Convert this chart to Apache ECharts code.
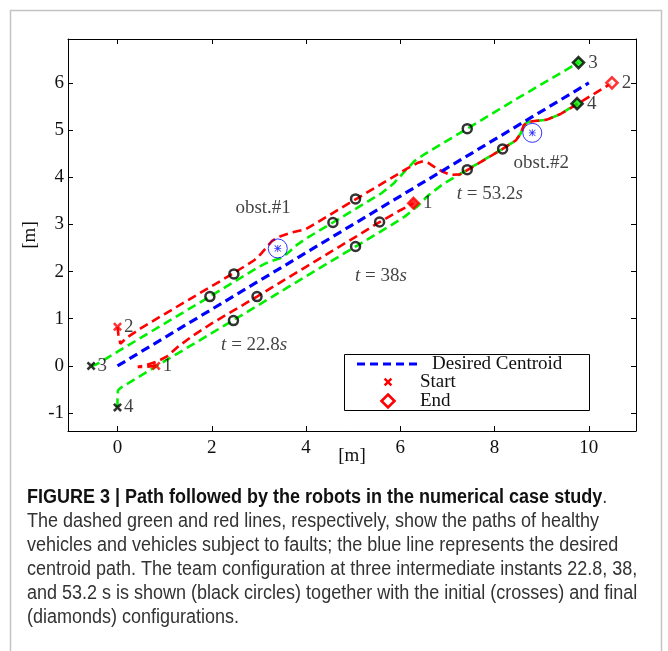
<!DOCTYPE html>
<html>
<head>
<meta charset="utf-8">
<script src="https://cdn.jsdelivr.net/npm/echarts@6/dist/echarts.min.js"></script>
<style>
  html, body { margin: 0; padding: 0; background: #fff; }
  #chart { width: 668px; height: 651px; }
</style>
</head>
<body>
<div id="chart"></div>
<script>
// Axis ticks
const xTicks = [0, 2, 4, 6, 8, 10];
const yTicks = [-1, 0, 1, 2, 3, 4, 5, 6];

// Desired centroid path
const centroidPath = [[0, 0], [10, 6]];

// Robot paths (robots 1 and 2 are the faulty ones)
const robot1Path = [[0.82, 0.00], [0.62, -0.02], [0.43, -0.02], [0.55, 0.00], [0.84, 0.09], [1.05, 0.20],
  [1.30, 0.42], [1.60, 0.64], [2.00, 0.90], [2.96, 1.47], [4.00, 2.10], [5.06, 2.74], [5.56, 3.05],
  [6.00, 3.30], [6.28, 3.45]];
const robot2Path = [[0.00, 0.83], [0.02, 0.66], [0.06, 0.47], [0.20, 0.60], [0.50, 0.80], [1.00, 1.10],
  [2.47, 1.97], [2.90, 2.24], [3.03, 2.36], [3.15, 2.50], [3.28, 2.65], [3.46, 2.75], [3.67, 2.82],
  [4.00, 2.90], [5.05, 3.53], [6.14, 4.18], [6.36, 4.30], [6.49, 4.34], [6.60, 4.30], [6.72, 4.22],
  [6.89, 4.12], [7.06, 4.05], [7.27, 4.06], [7.42, 4.15], [8.17, 4.60], [8.45, 4.78], [8.55, 4.92],
  [8.62, 5.10], [8.70, 5.17], [8.85, 5.19], [9.11, 5.22], [9.40, 5.34], [9.75, 5.55], [10.10, 5.76],
  [10.49, 6.00]];
const robot3Path = [[-0.56, 0.00], [-0.45, 0.03], [0.50, 0.60], [1.96, 1.47], [3.00, 2.10], [3.20, 2.20],
  [3.45, 2.28], [3.60, 2.38], [3.80, 2.56], [4.00, 2.70], [4.57, 3.04], [5.60, 3.66], [5.85, 3.86],
  [6.10, 4.13], [6.30, 4.34], [6.50, 4.48], [7.42, 5.03], [8.50, 5.68], [9.78, 6.43]];
const robot4Path = [[0.00, -0.88], [0.00, -0.70], [0.01, -0.52], [0.06, -0.47], [1.00, 0.10], [2.46, 0.97],
  [4.00, 1.90], [5.05, 2.53], [5.80, 2.98], [6.10, 3.17], [6.36, 3.38], [6.60, 3.62], [6.90, 3.85],
  [7.42, 4.16], [8.17, 4.60], [8.45, 4.78], [8.55, 4.92], [8.62, 5.10], [8.70, 5.17], [8.85, 5.19],
  [9.11, 5.22], [9.40, 5.34], [9.75, 5.56]];

// Initial and final positions, robots 1..4
const robotIds = ['1', '2', '3', '4'];
const startPoints = [[0.82, 0.00], [0.00, 0.83], [-0.56, 0.00], [0.00, -0.88]];
const endPoints = [[6.28, 3.45], [10.49, 6.00], [9.78, 6.43], [9.75, 5.56]];
const faultyRobots = ['1', '2'];

// Team configuration at intermediate instants
const snapshot228 = [[1.96, 1.47], [2.47, 1.95], [2.96, 1.47], [2.46, 0.96]];
const snapshot38 = [[4.57, 3.04], [5.05, 3.54], [5.56, 3.05], [5.05, 2.53]];
const snapshot532 = [[7.42, 5.03], [8.17, 4.60], [7.42, 4.16]];

// Obstacles
const obstacles = [[3.40, 2.49], [8.80, 4.94]];

// Text annotations: [text, x, y]
const annotations = [
  ['obst.#1', 3.09, 3.35],
  ['obst.#2', 8.99, 4.30],
  ['{i|t} = 22.8{i|s}', 2.90, 0.44],
  ['{i|t} = 38{i|s}', 5.59, 1.91],
  ['{i|t} = 53.2{i|s}', 7.90, 3.64]
];

// Caption
const captionTitle = 'FIGURE 3 | Path followed by the robots in the numerical case study';
const captionLines = [
  'The dashed green and red lines, respectively, show the paths of healthy',
  'vehicles and vehicles subject to faults; the blue line represents the desired',
  'centroid path. The team configuration at three intermediate instants 22.8, 38,',
  'and 53.2 s is shown (black circles) together with the initial (crosses) and final',
  '(diamonds) configurations.'
];

const RED = '#ff0000', GREEN = '#00f000', BLUE = '#0000ff';
const SERIF = '"Liberation Serif", "Times New Roman", serif';
const CAPFONT = '"Liberation Sans", Arial, sans-serif';
const CAP_SIZE = 20, CAP_SQUEEZE = 0.9;   // condensed caption face
const CROSS_PTS = [[0, 2], [2, 0], [5, 3], [8, 0], [10, 2], [7, 5], [10, 8], [8, 10], [5, 7], [2, 10], [0, 8], [3, 5]];
const CROSS = 'path://M' + CROSS_PTS.map(p => p.join(',')).join('L') + 'Z';
const STAR = 'path://M4.4,0H5.6V10H4.4Z M0,4.4H10V5.6H0Z M1,0.2L9.8,9L9,9.8L0.2,1Z M9,0.2L9.8,1L1,9.8L0.2,9Z';

const chart = echarts.init(document.getElementById('chart'), null, { renderer: 'canvas' });

function pathSeries(data, color, z, width) {
  return {
    type: 'line', data: data, symbol: 'none', showSymbol: false, z: z,
    lineStyle: { color: color, width: width || 2.6, type: [9, 5] },
    silent: true
  };
}

const axisLineStyle = { color: '#000', width: 1 };
function xAxisDef(pos, withLabels) {
  return {
    type: 'value', min: -1.05, max: 11.0, position: pos,
    axisLine: { show: true, onZero: false, lineStyle: axisLineStyle },
    axisTick: { show: true, inside: true, length: 5, customValues: xTicks, lineStyle: axisLineStyle },
    axisLabel: withLabels ? { customValues: xTicks, fontFamily: SERIF, fontSize: 19, color: '#111', margin: 8 } : { show: false },
    splitLine: { show: false },
    name: withLabels ? '[m]' : '', nameLocation: 'middle', nameGap: 25, nameMoveOverlap: false,
    nameTextStyle: { fontFamily: SERIF, fontSize: 19, color: '#111', verticalAlign: 'middle' }
  };
}
function yAxisDef(pos, withLabels) {
  return {
    type: 'value', min: -1.38, max: 6.93, position: pos,
    axisLine: { show: true, onZero: false, lineStyle: axisLineStyle },
    axisTick: { show: true, inside: true, length: 5, customValues: yTicks, lineStyle: axisLineStyle },
    axisLabel: withLabels ? { customValues: yTicks, fontFamily: SERIF, fontSize: 19, color: '#111', margin: 4 } : { show: false },
    splitLine: { show: false },
    name: withLabels ? '[m]' : '', nameLocation: 'middle', nameGap: 38, nameMoveOverlap: false,
    nameTextStyle: { fontFamily: SERIF, fontSize: 19, color: '#111', verticalAlign: 'middle' }
  };
}

const startData = startPoints.map((p, i) => {
  const faulty = faultyRobots.includes(robotIds[i]);
  return { value: p, name: robotIds[i], itemStyle: { color: faulty ? RED : '#000' } };
});
const endData = endPoints.map((p, i) => {
  const id = robotIds[i];
  let style;
  if (id === '1') style = { color: RED, borderColor: RED, borderWidth: 2.2 };
  else if (id === '2') style = { color: '#fff', borderColor: RED, borderWidth: 2.6 };
  else style = { color: GREEN, borderColor: '#000', borderWidth: 2.6 };
  return { value: p, name: id, itemStyle: style };
});

const numberLabel = {
  show: true, position: 'right', distance: 2, formatter: '{b}',
  fontFamily: SERIF, fontSize: 19, color: '#111'
};

const snapshotSeries = [snapshot228, snapshot38, snapshot532].map(s => ({
  type: 'scatter', data: s, symbol: 'circle', symbolSize: 9, z: 10, silent: true,
  itemStyle: { color: 'rgba(0,0,0,0)', borderColor: '#000', borderWidth: 2.5 }
}));

// Caption text
const captionTop = 497, captionStep = 24, captionLeft = 27;
const captionGraphics = [{
  type: 'text', x: captionLeft, y: captionTop, scaleX: CAP_SQUEEZE,
  style: {
    text: '{b|' + captionTitle + '}{r|.}',
    verticalAlign: 'middle',
    rich: {
      b: { fontFamily: CAPFONT, fontSize: CAP_SIZE, fontWeight: 'bold', fill: '#111' },
      r: { fontFamily: CAPFONT, fontSize: CAP_SIZE, fill: '#333' }
    }
  }
}].concat(captionLines.map((line, i) => ({
  type: 'text', x: captionLeft, y: captionTop + captionStep * (i + 1), scaleX: CAP_SQUEEZE,
  style: { text: line, fontFamily: CAPFONT, fontSize: CAP_SIZE, fill: '#333', verticalAlign: 'middle' }
})));

// Legend box
const legendCross = CROSS_PTS.map(p => [383.75 + p[0] * 0.85, 377.75 + p[1] * 0.85]);
const legendGraphics = [
  { type: 'rect', shape: { x: 344.5, y: 354.5, width: 245, height: 56 },
    style: { fill: '#fff', stroke: '#000', lineWidth: 1 }, z: 100 },
  { type: 'line', shape: { x1: 357, y1: 364, x2: 418, y2: 364 },
    style: { stroke: BLUE, lineWidth: 3, lineDash: [8, 5] }, z: 101 },
  { type: 'text', x: 432, y: 364, style: { text: 'Desired Centroid', fontFamily: SERIF, fontSize: 19, fill: '#111', verticalAlign: 'middle' }, z: 101 },
  { type: 'polygon', shape: { points: legendCross }, style: { fill: RED }, z: 101 },
  { type: 'text', x: 420, y: 382, style: { text: 'Start', fontFamily: SERIF, fontSize: 19, fill: '#111', verticalAlign: 'middle' }, z: 101 },
  { type: 'polygon', shape: { points: [[388, 394.5], [394.5, 401], [388, 407.5], [381.5, 401]] },
    style: { fill: '#fff', stroke: RED, lineWidth: 2.6 }, z: 101 },
  { type: 'text', x: 420, y: 401, style: { text: 'End', fontFamily: SERIF, fontSize: 19, fill: '#111', verticalAlign: 'middle' }, z: 101 }
];

const frameGraphic = {
  type: 'rect', shape: { x: 10.5, y: 10.5, width: 651, height: 700 },
  style: { fill: 'none', stroke: '#c4c4c4', lineWidth: 1.5 }, z: -10, silent: true
};

const option = {
  animation: false,
  backgroundColor: '#fff',
  grid: { left: 68, top: 39, width: 568, height: 392, containLabel: false },
  xAxis: [xAxisDef('bottom', true), xAxisDef('top', false)],
  yAxis: [yAxisDef('left', true), yAxisDef('right', false)],
  series: [
    pathSeries(robot4Path, GREEN, 2),
    pathSeries(robot3Path, GREEN, 2),
    pathSeries(robot1Path, RED, 3),
    pathSeries(robot2Path, RED, 3),
    pathSeries(centroidPath, BLUE, 4, 3.2),
    {
      type: 'scatter', data: obstacles, symbol: 'circle', symbolSize: 19, z: 6, silent: true,
      itemStyle: { color: 'rgba(0,0,0,0)', borderColor: BLUE, borderWidth: 1 }
    },
    {
      type: 'scatter', data: obstacles, symbol: STAR, symbolSize: 7, z: 6, silent: true,
      itemStyle: { color: BLUE }
    },
    ...snapshotSeries,
    {
      type: 'scatter', data: startData, symbol: CROSS, symbolSize: 9, z: 12, silent: true,
      label: numberLabel
    },
    {
      type: 'scatter', data: endData, symbol: 'diamond', symbolSize: 11, z: 12, silent: true,
      label: Object.assign({}, numberLabel, { distance: 3 })
    },
    {
      type: 'scatter', symbolSize: 0, z: 20, silent: true,
      data: annotations.map(a => ({ value: [a[1], a[2]], name: a[0] })),
      label: {
        show: true, position: 'inside', formatter: '{b}',
        fontFamily: SERIF, fontSize: 19, color: '#111',
        rich: { i: { fontFamily: SERIF, fontSize: 19, fontStyle: 'italic', color: '#111' } }
      }
    }
  ],
  graphic: [frameGraphic].concat(legendGraphics, captionGraphics)
};

chart.setOption(option);
</script>
</body>
</html>
